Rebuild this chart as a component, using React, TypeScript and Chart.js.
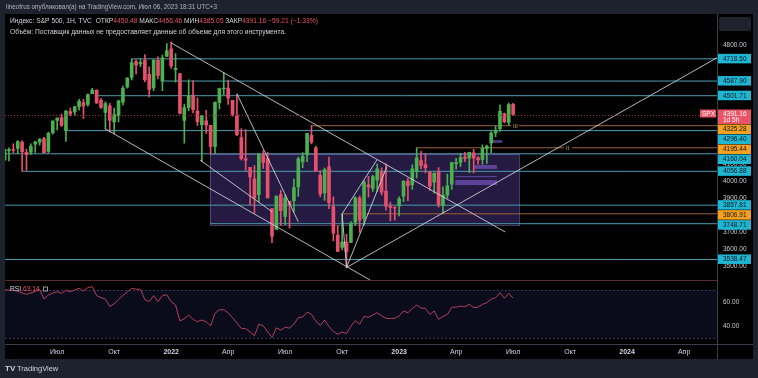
import React, { useEffect, useRef } from "react";
import { Chart, registerables } from "chart.js";

Chart.register(...registerables);

// ---- weekly candles (S&P 500), Apr 2021 -> Jul 2023, bar index 0..116 ----
const opens = [
  4124, 4179, 4185, 4192, 4228, 4169, 4170, 4216, 4229, 4249, 4174, 4285, 4356, 4373, 4296, 4409, 4406, 4437, 4461, 4450,
  4514, 4535, 4474, 4403, 4442, 4348, 4385, 4463, 4553, 4610, 4702, 4689, 4712, 4628, 4548, 4710, 4587, 4733,
  4778, 4655, 4632, 4356, 4431, 4505, 4412, 4332, 4354, 4327, 4202, 4462, 4541, 4547, 4474, 4385, 4255, 4130, 4081, 4013,
  3919, 4151, 4134, 3838, 3715, 3920, 3792, 3880, 3883, 3966, 4112, 4155, 4269, 4195, 4034, 3930, 4083, 3849, 3682, 3610,
  3641, 3638, 3758, 3901, 3780, 3978, 3956, 4006, 4053, 3940, 3854, 3843,
  3853, 3911, 3999, 3978, 4056, 4120, 4096, 4052, 3993, 4055, 3855, 3917, 3982, 4102, 4110, 4140, 4134, 4166, 4136, 4127,
  4190, 4224, 4283, 4308, 4396, 4344, 4450.48,
];
const highs = [
  4191, 4195, 4218, 4238, 4238, 4188, 4219, 4234, 4249, 4257, 4286, 4356, 4372, 4394, 4415, 4429, 4440, 4480, 4481, 4513,
  4545, 4535, 4486, 4465, 4457, 4429, 4475, 4559, 4608, 4718.5, 4714, 4717, 4743, 4672, 4713, 4731, 4740, 4808,
  4818, 4749, 4632, 4453, 4595, 4590, 4489, 4385, 4416, 4327, 4465, 4546, 4637, 4593, 4471, 4512, 4308, 4303, 4081, 4091,
  4158, 4178, 4169, 3838, 3913, 3946, 3919, 3880, 4012, 4140, 4167, 4280, 4325.28, 4204, 4062, 4076, 4140, 3907, 3737, 3806.91,
  3686, 3762, 3907, 3911, 4003, 4028, 4034, 4100, 4077, 4101, 3876, 3846,
  3907, 4001, 4016, 4095, 4195.44, 4176, 4163, 4056, 4049, 4079, 3965, 4040, 4110, 4133, 4163, 4169, 4170, 4187, 4143, 4213,
  4212, 4290, 4322, 4448, 4400, 4458, 4456.46,
];
const lows = [
  4118, 4118, 4164, 4161, 4056.88, 4062, 4155, 4168, 4211, 4164, 4166, 4275, 4300, 4321, 4233, 4385, 4385, 4417, 4368, 4440,
  4513, 4457, 4427, 4306, 4288, 4278, 4347, 4447, 4546, 4595, 4630, 4672, 4585, 4495, 4532, 4600, 4531, 4733,
  4662, 4582, 4395, 4222, 4414, 4401, 4327, 4115, 4280, 4157, 4162, 4424, 4507, 4450, 4381, 4267, 4124, 4062, 3859, 3811,
  3875, 4074, 3900, 3637, 3715, 3738, 3743, 3722, 3818, 3910, 4079, 4114, 4218, 4057, 3907, 3886, 3837, 3647, 3584, 3595,
  3491, 3637, 3738, 3698, 3743, 3906, 3938, 3938, 3918, 3828, 3765, 3769,
  3794, 3878, 3885, 3950, 4018, 4071, 4047, 3944, 3928, 3846, 3809, 3899, 3951, 4069, 4085, 4113, 4049, 4048, 4099, 4098,
  4103, 4166, 4261, 4292, 4341, 4328, 4385.05,
];
const closes = [
  4185, 4180, 4181, 4232, 4173, 4156, 4204, 4230, 4247, 4166, 4281, 4352, 4370, 4327, 4412, 4395, 4437, 4468, 4441, 4509,
  4535, 4459, 4433, 4455, 4357, 4391, 4471, 4545, 4605, 4697, 4682, 4698, 4595, 4538, 4712, 4621, 4725, 4766,
  4677, 4663, 4398, 4432, 4501, 4419, 4349, 4385, 4329, 4204, 4463, 4543, 4546, 4488, 4392, 4272, 4132, 4123, 4024, 3901,
  4158, 4109, 3901, 3675, 3912, 3825, 3899, 3863, 3962, 4130, 4145, 4280, 4228, 4058, 3924, 4067, 3873, 3693, 3586, 3640,
  3583, 3752, 3901, 3770, 3993, 3965, 4026, 4072, 3934, 3852, 3845, 3840,
  3895, 3999, 3973, 4071, 4136, 4091, 4079, 3970, 4045, 3861, 3917, 3971, 4109, 4105, 4138, 4133, 4169, 4136, 4124, 4192,
  4205, 4282, 4299, 4410, 4348, 4450, 4391.16,
];
// RSI values
const rsiValues = [
  70.0, 70.0, 69.5, 69.0, 67.5, 66.4, 67.5, 68.8, 70.4, 62.5, 65.8, 67.5, 68.6, 67.2, 69.8, 68.6, 70.0, 71.4, 69.2, 72.0,
  72.8, 65.3, 63.6, 62.5, 56.3, 58.5, 62.0, 65.5, 68.5, 71.4, 70.7, 70.6, 62.0, 60.3, 65.3, 60.3, 65.3, 66.0,
  60.3, 57.5, 44.2, 46.0, 49.2, 45.5, 43.6, 45.0, 43.5, 40.0, 50.5, 53.5, 53.6, 51.0, 47.0, 42.5, 38.0, 37.8, 35.0, 32.0,
  41.5, 40.2, 35.0, 30.5, 38.5, 36.5, 39.0, 38.2, 41.5, 47.0, 47.5, 51.5, 49.8, 44.0, 40.5, 45.0, 39.5, 35.5, 33.0, 35.0,
  33.8, 39.8, 44.5, 41.5, 48.0, 47.3, 49.2, 51.0, 48.5, 46.4, 46.2, 46.4,
  48.5, 52.5, 51.1, 54.5, 57.5, 55.0, 54.7, 49.7, 52.5, 45.6, 48.0, 49.7, 55.6, 55.7, 56.5, 56.0, 58.1, 55.3, 55.8, 58.1,
  59.4, 62.5, 63.6, 67.8, 63.1, 67.2, 63.14,
];

// time axis
const monthTickBars = [12, 25, 38, 51, 64, 77, 90, 103, 116, 129, 142, 155];
const monthTickLabels = ["Июл", "Окт", "2022", "Апр", "Июл", "Окт", "2023", "Апр", "Июл", "Окт", "2024", "Апр"];
// price axis
const priceTicks = [4800, 4100, 4000, 3900, 3700, 3600, 3500];
const rsiTicks = [60, 40];

// horizontal levels (teal)
const levelPrices = [4718.5, 4587.9, 4501.71, 4296.4, 4160.04, 4056.88, 3857.81, 3748.71, 3538.47];
const levelStartBars = [29, 36.2, 21.3, 13.8, 0, 4, 0, 46.9, 0];
// key levels (orange)
const keyPrices = [4325.28, 4195.44, 3806.91];
const keyStartBars = [70, 94, 77];
// axis labels
const axisLabelPrices = [4718.5, 4587.9, 4501.71, 4325.28, 4296.4, 4195.44, 4160.04, 4056.88, 3857.81, 3806.91, 3748.71, 3538.47];
const axisLabelKinds = ["c", "c", "c", "o", "c", "o", "c", "c", "c", "o", "c", "c"];
const lastPrice = 4391.16;
const lastCountdown = "1d 5h";

// trend lines (bar index, price)
const trendFromBar = [38, 23, 53, 44.6, 78, 77, 78, 78];
const trendFromPrice = [4812, 4306, 4513, 4123, 3491, 3806.91, 3491, 3491];
const trendToBar = [114.2, 83.4, 67, 61, 77, 84.9, 87.2, 162.5];
const trendToPrice = [3700, 3417, 3760, 3819, 3806.91, 4123, 4084, 4725];

// zone rectangle
const zoneBars = [46.9, 117.4];
const zonePrices = [4160.04, 3745];
// small rectangles
const miniFromBar = [107.1, 102.8, 102.8, 111.4];
const miniToBar = [112.3, 112.3, 112.3, 113.5];
const miniTopPrice = [4094, 4029, 4006, 4241];
const miniBottomPrice = [4071, 4023, 3976, 4224];

// marks on orange lines
const markBars = [116.2, 128.3];
const markPrices = [4325.28, 4195.44];
const markTexts = ["III", "II"];

// header values
const hdrOpen = "4450.48";
const hdrHigh = "4456.46";
const hdrLow = "4385.05";
const hdrClose = "4391.16";
const hdrChange = "−59.21 (−1.33%)";
const rsiLast = "63.14";

const FONT = '"Liberation Sans", Arial, sans-serif';
const X_MIN = 0.1;
const X_MAX = 162.5;
const UP = "#4caf50";
const DN = "#e5506c";
const TEAL = "#4a9db0";
const ORANGE_LINE = "#a0603a";
const TEXT = "#d1d4dc";
const RED = "#ef4f63";

function spans(ctx: CanvasRenderingContext2D, x: number, y: number, parts: [string, string][]) {
  let cx = x;
  for (const [t, c] of parts) {
    ctx.fillStyle = c;
    ctx.fillText(t, cx, y);
    cx += ctx.measureText(t).width;
  }
}

const paint = {
  id: "paint",
  beforeDraw(chart: any) {
    const { ctx, chartArea: a, scales } = chart;
    ctx.save();
    ctx.fillStyle = "#1e222d";
    ctx.fillRect(0, 0, chart.width, chart.height);
    ctx.fillStyle = "#000000";
    ctx.fillRect(a.left, a.top, a.right - a.left + 36, a.bottom - a.top + 15);
    const yr = scales.yr;
    const y70 = yr.getPixelForValue(70);
    const y30 = yr.getPixelForValue(30);
    ctx.fillStyle = "#0a0c1b";
    ctx.fillRect(a.left, y70, a.right - a.left, y30 - y70);
    ctx.setLineDash([2, 2]);
    ctx.strokeStyle = "#3a3566";
    ctx.lineWidth = 1;
    ctx.beginPath();
    ctx.moveTo(a.left, Math.round(y70) + 0.5);
    ctx.lineTo(a.right, Math.round(y70) + 0.5);
    ctx.moveTo(a.left, Math.round(y30) + 0.5);
    ctx.lineTo(a.right, Math.round(y30) + 0.5);
    ctx.stroke();
    ctx.restore();
  },
  beforeDatasetsDraw(chart: any) {
    const { ctx, scales } = chart;
    const x = scales.x;
    const y = scales.y;
    ctx.save();
    const zx1 = x.getPixelForValue(zoneBars[0]);
    const zx2 = x.getPixelForValue(zoneBars[1]);
    const zy1 = y.getPixelForValue(zonePrices[0]);
    const zy2 = y.getPixelForValue(zonePrices[1]);
    ctx.fillStyle = "rgba(110, 80, 200, 0.33)";
    ctx.fillRect(zx1, zy1, zx2 - zx1, zy2 - zy1);
    ctx.strokeStyle = "rgba(150, 120, 220, 0.45)";
    ctx.lineWidth = 1;
    ctx.strokeRect(Math.round(zx1) + 0.5, Math.round(zy1) + 0.5, Math.round(zx2 - zx1), Math.round(zy2 - zy1));
    ctx.fillStyle = "rgba(140, 100, 225, 0.55)";
    for (let k = 0; k < miniFromBar.length; k++) {
      const a1 = x.getPixelForValue(miniFromBar[k]);
      const a2 = x.getPixelForValue(miniToBar[k]);
      const b1 = y.getPixelForValue(miniTopPrice[k]);
      const b2 = y.getPixelForValue(miniBottomPrice[k]);
      ctx.fillRect(a1, b1, a2 - a1, Math.max(1, b2 - b1));
    }
    ctx.restore();
  },
  afterDraw(chart: any) {
    const { ctx, chartArea: a, scales } = chart;
    const x = scales.x;
    const y = scales.y;
    ctx.save();
    // marks on orange lines
    ctx.font = `6px ${FONT}`;
    ctx.textBaseline = "middle";
    for (let k = 0; k < markBars.length; k++) {
      const px = x.getPixelForValue(markBars[k]);
      const py = y.getPixelForValue(markPrices[k]);
      ctx.fillStyle = "#000";
      ctx.fillRect(px - 3, py - 2, 8, 4);
      ctx.fillStyle = "#c9a24a";
      ctx.fillText(markTexts[k], px - 1, py + 1);
    }
    // last price dotted line
    const ly = Math.round(y.getPixelForValue(lastPrice)) + 0.5;
    ctx.setLineDash([1, 2]);
    ctx.strokeStyle = "#9b2f3f";
    ctx.lineWidth = 1;
    ctx.beginPath();
    ctx.moveTo(a.left, ly);
    ctx.lineTo(a.right, ly);
    ctx.stroke();
    ctx.setLineDash([]);
    // separators
    ctx.strokeStyle = "#5a2b2e";
    ctx.beginPath();
    ctx.moveTo(a.left, Math.round(y.bottom) - 0.5);
    ctx.lineTo(a.right, Math.round(y.bottom) - 0.5);
    ctx.stroke();
    ctx.strokeStyle = "#3a3e4a";
    ctx.beginPath();
    ctx.moveTo(a.right + 0.5, a.top);
    ctx.lineTo(a.right + 0.5, a.bottom + 15);
    ctx.moveTo(a.left, a.bottom + 0.5);
    ctx.lineTo(a.right + 36, a.bottom + 0.5);
    ctx.stroke();
    // axis label boxes
    const items = axisLabelPrices.map((p, k) => ({ p, py: y.getPixelForValue(p), kind: axisLabelKinds[k], h: 10 }));
    items.push({ p: lastPrice, py: y.getPixelForValue(lastPrice), kind: "r", h: 15 });
    items.sort((m, n) => m.py - n.py);
    let prevBottom = -1e9;
    const bx = a.right + 1;
    const bw = 33;
    ctx.font = `6.5px ${FONT}`;
    for (const it of items) {
      let top = it.kind === "r" ? it.py - 5 : it.py - it.h / 2;
      if (top < prevBottom) top = prevBottom;
      prevBottom = top + it.h;
      ctx.fillStyle = it.kind === "c" ? "#1eb6d2" : it.kind === "o" ? "#f5a01e" : "#eb5466";
      ctx.fillRect(bx, top, bw, it.h - 0.5);
      ctx.fillStyle = it.kind === "r" ? "#ffffff" : "#10141c";
      ctx.fillText(it.p.toFixed(2), bx + 5, top + 5.2);
      if (it.kind === "r") {
        ctx.fillText(lastCountdown, bx + 5, top + 11);
        // SPX tag
        ctx.fillStyle = "#eb5466";
        ctx.fillRect(a.right - 17, top, 16, 8);
        ctx.fillStyle = "#ffffff";
        ctx.fillText("SPX", a.right - 15, top + 4.3);
      }
    }
    // top-right button
    ctx.fillStyle = "#1e222d";
    ctx.beginPath();
    (ctx as any).roundRect ? (ctx as any).roundRect(a.right + 2, 17, 32, 14, 2) : ctx.rect(a.right + 2, 17, 32, 14);
    ctx.fill();
    // header strip
    ctx.font = `6.3px ${FONT}`;
    ctx.fillStyle = "#b2b5be";
    ctx.fillText("lineofrus опубликовал(а) на TradingView.com, Июл 06, 2023 18:31 UTC+3", 6, 7.5);
    // legend
    ctx.font = `6.7px ${FONT}`;
    spans(ctx, 10, 21, [
      ["Индекс: S&P 500, 1H, TVC  ", TEXT],
      ["ОТКР", TEXT],
      [hdrOpen, RED],
      [" МАКС", TEXT],
      [hdrHigh, RED],
      [" МИН", TEXT],
      [hdrLow, RED],
      [" ЗАКР", TEXT],
      [hdrClose, RED],
      [" " + hdrChange, RED],
    ]);
    ctx.fillStyle = TEXT;
    ctx.fillText("Объём: Поставщик данных не предоставляет данные об объеме для этого инструмента.", 10, 32);
    // RSI legend
    const yr = scales.yr;
    ctx.font = `6.7px ${FONT}`;
    spans(ctx, 10, yr.top + 8.5, [
      ["RSI ", TEXT],
      [rsiLast, RED],
    ]);
    ctx.strokeStyle = "#9598a1";
    ctx.strokeRect(43.5, yr.top + 6.5, 4, 4);
    // footer logo
    ctx.font = `bold 8px ${FONT}`;
    ctx.fillStyle = TEXT;
    ctx.fillText("TV", 5, 369);
    ctx.font = `7.5px ${FONT}`;
    ctx.fillText("TradingView", 17, 369);
    ctx.restore();
  },
};

export default function App() {
  const canvasRef = useRef<HTMLCanvasElement | null>(null);
  useEffect(() => {
    document.body.style.margin = "0";
    document.body.style.background = "#1e222d";
    const canvas = canvasRef.current;
    if (!canvas) return;
    const n = closes.length;
    const idx = Array.from({ length: n }, (_, i) => i);
    const colors = idx.map((i) => (closes[i] >= opens[i] ? UP : DN));
    const datasets: any[] = [];
    levelPrices.forEach((p, k) =>
      datasets.push({
        type: "line",
        data: [
          { x: levelStartBars[k], y: p },
          { x: X_MAX, y: p },
        ],
        borderColor: TEAL,
        borderWidth: 1,
        pointRadius: 0,
        yAxisID: "y",
        xAxisID: "x",
        order: 6,
      })
    );
    keyPrices.forEach((p, k) =>
      datasets.push({
        type: "line",
        data: [
          { x: keyStartBars[k], y: p },
          { x: X_MAX, y: p },
        ],
        borderColor: ORANGE_LINE,
        borderWidth: 1,
        pointRadius: 0,
        yAxisID: "y",
        xAxisID: "x",
        order: 6,
      })
    );
    datasets.push({
      type: "bar",
      data: idx.map((i) => ({ x: i, y: [lows[i], highs[i]] })),
      backgroundColor: colors,
      barThickness: 1,
      grouped: false,
      minBarLength: 1,
      yAxisID: "y",
      xAxisID: "x",
      order: 4,
    });
    datasets.push({
      type: "bar",
      data: idx.map((i) => ({ x: i, y: [opens[i], closes[i]] })),
      backgroundColor: colors,
      barThickness: 3,
      grouped: false,
      minBarLength: 1,
      yAxisID: "y",
      xAxisID: "x",
      order: 3,
    });
    trendFromBar.forEach((b, k) =>
      datasets.push({
        type: "line",
        data: [
          { x: b, y: trendFromPrice[k] },
          { x: trendToBar[k], y: trendToPrice[k] },
        ],
        borderColor: "rgba(215,215,220,0.85)",
        borderWidth: 1,
        pointRadius: 0,
        yAxisID: "y",
        xAxisID: "x",
        order: 1,
      })
    );
    datasets.push({
      type: "line",
      data: idx.map((i) => ({ x: i, y: rsiValues[i] })),
      borderColor: "#b5405a",
      borderWidth: 1,
      pointRadius: 0,
      tension: 0,
      yAxisID: "yr",
      xAxisID: "x",
      order: 1,
    });

    const chart = new Chart(canvas, {
      type: "bar",
      data: { datasets },
      options: {
        responsive: false,
        animation: false,
        devicePixelRatio: 1,
        layout: { padding: { left: 5, right: 5, top: 14, bottom: 19 } },
        plugins: { legend: { display: false }, tooltip: { enabled: false } },
        scales: {
          x: {
            type: "linear",
            min: X_MIN,
            max: X_MAX,
            offset: false,
            position: "bottom",
            grid: { display: false, drawTicks: false, offset: false },
            border: { display: false },
            afterBuildTicks: (s: any) => {
              s.ticks = monthTickBars.map((v) => ({ value: v }));
            },
            afterFit: (s: any) => {
              s.height = 15;
            },
            ticks: {
              autoSkip: false,
              maxRotation: 0,
              padding: 4,
              color: TEXT,
              font: (c: any) => ({
                family: FONT,
                size: 7,
                weight: /^\d/.test(monthTickLabels[c.index] || "") ? "bold" : "normal",
              }),
              callback: (_v: any, i: number) => monthTickLabels[i],
            },
          },
          y: {
            type: "linear",
            position: "right",
            stack: "panes",
            stackWeight: 266.5,
            min: 3414.7,
            max: 4982.35,
            grid: { display: false, drawTicks: false },
            border: { display: false },
            afterBuildTicks: (s: any) => {
              s.ticks = priceTicks.map((v) => ({ value: v }));
            },
            afterFit: (s: any) => {
              s.width = 36;
            },
            ticks: {
              padding: 6,
              color: "#c8cbd3",
              font: { family: FONT, size: 6.5 },
              callback: (v: any) => Number(v).toFixed(2),
            },
          },
          yr: {
            type: "linear",
            position: "right",
            stack: "panes",
            stackWeight: 63.5,
            min: 25,
            max: 77.92,
            offset: false,
            grid: { display: false, drawTicks: false },
            border: { display: false },
            afterBuildTicks: (s: any) => {
              s.ticks = rsiTicks.map((v) => ({ value: v }));
            },
            afterFit: (s: any) => {
              s.width = 36;
            },
            ticks: {
              padding: 6,
              color: "#c8cbd3",
              font: { family: FONT, size: 6.5 },
              callback: (v: any) => Number(v).toFixed(2),
            },
          },
        },
      } as any,
      plugins: [paint],
    });
    return () => chart.destroy();
  }, []);
  return <canvas ref={canvasRef} width={758} height={378} style={{ display: "block" }} />;
}
